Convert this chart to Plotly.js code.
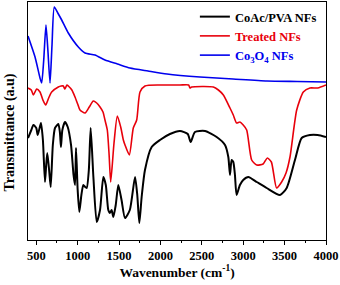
<!DOCTYPE html>
<html><head><meta charset="utf-8">
<script src="https://cdn.plot.ly/plotly-3.0.1.min.js"></script>
<style>html,body{margin:0;padding:0;background:#fff}#chart{width:340px;height:285px}</style>
</head><body><div id="chart"></div>
<script>
var seriesNames = ["CoAc/PVA NFs", "Treated NFs", "Co<sub>3</sub>O<sub>4</sub> NFs"];
var seriesColors = ["#000000", "#e8000b", "#0000ee"];

var wnBlack = [400,440,465,500,517,540,557,580,605,620,633,655,674,700,726,766,785,798,815,847,880,920,950,968,980,1000,1020,1045,1068,1090,1109,1135,1157,1190,1230,1270,1310,1340,1370,1390,1410,1431,1460,1491,1530,1572,1630,1693,1720,1745,1773,1813,1894,1994,2115,2236,2330,2365,2417,2538,2679,2780,2820,2840,2860,2880,2900,2920,2960,3000,3062,3163,3283,3444,3525,3625,3706,3806,3900,4000];
var tBlack = [102,110,115,112,105,112,117,100,58,75,87,70,53,95,112,116,108,93,110,118,113,95,65,55,92,50,28,45,55,53,52,70,112,63,18,30,63,55,30,27,30,23,35,55,40,22,30,63,45,17,43,70,93,100,106,109,106,98,108,109,103,95,83,65,80,78,65,45,55,60,63,58,52,45,52,80,102,105,105,103];

var wnRed = [400,440,465,505,545,580,614,650,686,766,800,827,845,870,887,930,968,1000,1028,1089,1140,1189,1230,1270,1306,1330,1358,1380,1399,1439,1479,1520,1552,1572,1624,1672,1713,1753,1813,1994,2236,2340,2357,2377,2639,2700,2760,2840,2880,2920,2960,3000,3042,3102,3163,3240,3291,3340,3403,3464,3517,3565,3646,3726,3806,3900,4000];
var tRed = [152,150,145,151,148,140,135,142,148,153,154,154,151,155,154,150,143,136,130,127,133,139,137,133,128,120,110,85,58,97,124,113,100,95,85,112,120,148,154,155,155,155,152,153,153,150,145,132,125,117,118,115,110,80,75,76,82,78,52,58,67,83,130,148,152,152,155];

var wnBlue = [400,485,545,565,590,617,640,666,690,718,760,807,887,1008,1089,1209,1330,1480,1632,1850,2079,2478,2877,3287,3650,4000];
var tBlue = [204,183,162,157,180,215,190,157,195,233,227,220,207,193,187,185,180,176,172,169,166,163,161,159,158.5,158];

var xs = [wnBlack, wnRed, wnBlue];
var ys = [tBlack, tRed, tBlue];
var widths = [2, 1.6, 1.6];

var traces = xs.map(function(x, i){
  return {
    x: x, y: ys[i], type: "scatter", mode: "lines",
    line: {color: seriesColors[i], width: widths[i], shape: "spline", smoothing: 0.6},
    name: '<span style="color:' + seriesColors[i] + '">' + seriesNames[i] + '</span>'
  };
});

var serif = "Liberation Serif, Times New Roman, serif";
var layout = {
  width: 340, height: 285,
  margin: {l: 28, r: 14, t: 2, b: 45},
  paper_bgcolor: "#fff", plot_bgcolor: "#fff",
  showlegend: true,
  legend: {x: 0.56, y: 1.0, xanchor: "left", yanchor: "top", bgcolor: "rgba(0,0,0,0)",
           font: {family: serif, size: 12.5, color: "#000", weight: "bold"}, tracegroupgap: 0, itemwidth: 30},
  xaxis: {
    range: [400, 4000], showgrid: false, zeroline: false,
    showline: true, linecolor: "#000", linewidth: 1, mirror: true,
    ticks: "outside", ticklen: 4, tickcolor: "#000", tickwidth: 1,
    tickvals: [500,1000,1500,2000,2500,3000,3500,4000],
    minor: {ticks: "outside", ticklen: 2, dtick: 250, tick0: 0, tickcolor: "#000", showgrid: false},
    tickfont: {family: serif, size: 12.5, color: "#000", weight: "bold"},
    title: {text: "Wavenumber (cm<sup>-1</sup>)", font: {family: serif, size: 13.5, color: "#000", weight: "bold"}, standoff: 5}
  },
  yaxis: {
    range: [0, 238], showgrid: false, zeroline: false,
    showline: true, linecolor: "#000", linewidth: 1, mirror: true,
    ticks: "", showticklabels: false
  },
  annotations: [{
    text: "Transmittance (a.u)", textangle: -90, showarrow: false,
    xref: "paper", yref: "paper", x: -0.062, y: 0.45, xanchor: "center", yanchor: "middle",
    font: {family: serif, size: 14, color: "#000", weight: "bold"}
  }]
};
Plotly.newPlot("chart", traces, layout, {displayModeBar: false, staticPlot: true});
</script></body></html>
